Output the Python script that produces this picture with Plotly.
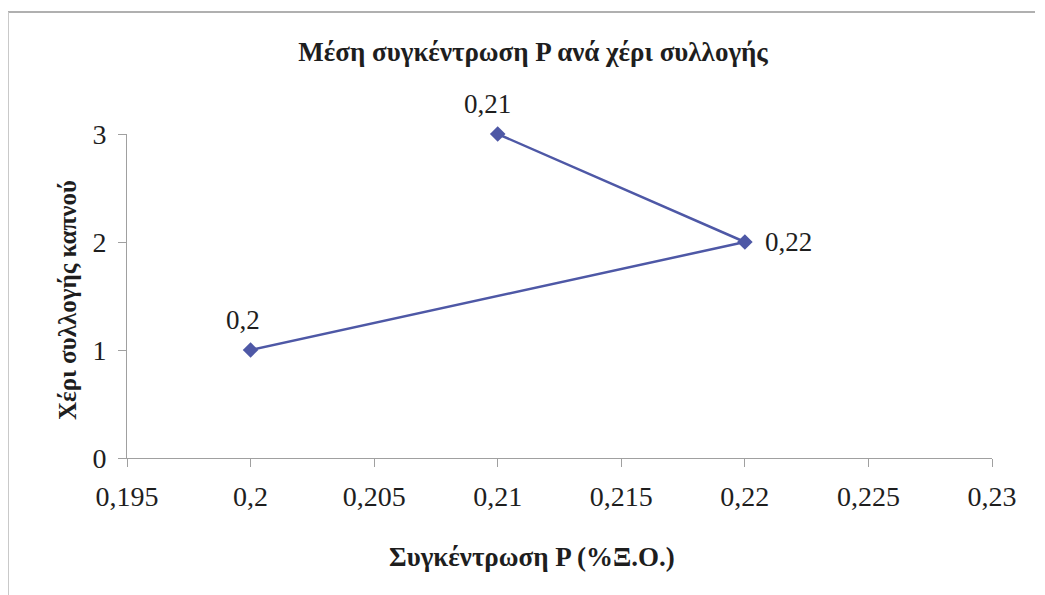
import plotly.graph_objects as go

conc = [0.2, 0.22, 0.21]
hand = [1, 2, 3]
labels = ["0,2", "0,22", "0,21"]
x_ticks = [0.195, 0.2, 0.205, 0.21, 0.215, 0.22, 0.225, 0.23]
x_ticktext = ["0,195", "0,2", "0,205", "0,21", "0,215", "0,22", "0,225", "0,23"]
y_ticks = [0, 1, 2, 3]

FONT = "Liberation Serif"
BLUE = "#4E58A6"
TXT = "#1e1e1e"

fig = go.Figure()
fig.add_trace(go.Scatter(
    x=conc, y=hand, mode="lines+markers",
    line=dict(color=BLUE, width=2.5),
    marker=dict(symbol="diamond", size=12, color=BLUE),
    cliponaxis=False, showlegend=False,
))

# data labels (placement offsets per point)
label_style = {
    "0,2": dict(xshift=-8, yshift=30, xanchor="center"),
    "0,22": dict(xshift=18, yshift=0, xanchor="left"),
    "0,21": dict(xshift=-10, yshift=30, xanchor="center"),
}
for xv, yv, lab in zip(conc, hand, labels):
    fig.add_annotation(x=xv, y=yv, text=lab, showarrow=False,
                       yanchor="middle",
                       font=dict(family=FONT, size=27, color=TXT),
                       **label_style[lab])

fig.update_layout(
    width=1045, height=595,
    margin=dict(l=119, r=61, t=126, b=145),
    paper_bgcolor="white", plot_bgcolor="white",
    title=dict(text="<b>Μέση συγκέντρωση P ανά χέρι συλλογής</b>",
               x=0.5024, xanchor="center", y=0.927, yanchor="middle",
               font=dict(family=FONT, size=27, color=TXT)),
    xaxis=dict(range=[0.195, 0.23], tickvals=x_ticks, ticktext=x_ticktext,
               automargin=False,
               showgrid=False, zeroline=False, showline=True, linecolor="#a0a0a0",
               linewidth=1, ticks="outside", ticklen=8, tickcolor="#a0a0a0",
               ticklabelstandoff=5,
               tickfont=dict(family=FONT, size=28, color=TXT)),
    yaxis=dict(range=[0, 3], tickvals=y_ticks,
               automargin=False,
               showgrid=False, zeroline=False, showline=True, linecolor="#a0a0a0",
               linewidth=1, ticks="outside", ticklen=8, tickcolor="#a0a0a0",
               ticklabelstandoff=6,
               tickfont=dict(family=FONT, size=28, color=TXT)),
)

# axis titles
fig.add_annotation(xref="paper", yref="paper", x=0.468, y=-0.3056,
                   text="<b>Συγκέντρωση P (%Ξ.Ο.)</b>", showarrow=False,
                   xanchor="center", yanchor="middle",
                   font=dict(family=FONT, size=27, color=TXT))
fig.add_annotation(xref="paper", yref="paper", x=-0.0682, y=0.4877,
                   text="<b>Χέρι συλλογής καπνού</b>", showarrow=False,
                   textangle=-90, xanchor="center", yanchor="middle",
                   font=dict(family=FONT, size=25, color=TXT))

# picture frame lines
fig.add_shape(type="line", xref="paper", yref="paper",
              x0=-0.1376, x1=1.0497, y0=1.3765, y1=1.3765,
              line=dict(color="#b0b0b0", width=2))
fig.add_shape(type="line", xref="paper", yref="paper",
              x0=-0.1376, x1=-0.1376, y0=-0.43, y1=1.3765,
              line=dict(color="#c8c8c8", width=2))

fig.write_html("out.html")
